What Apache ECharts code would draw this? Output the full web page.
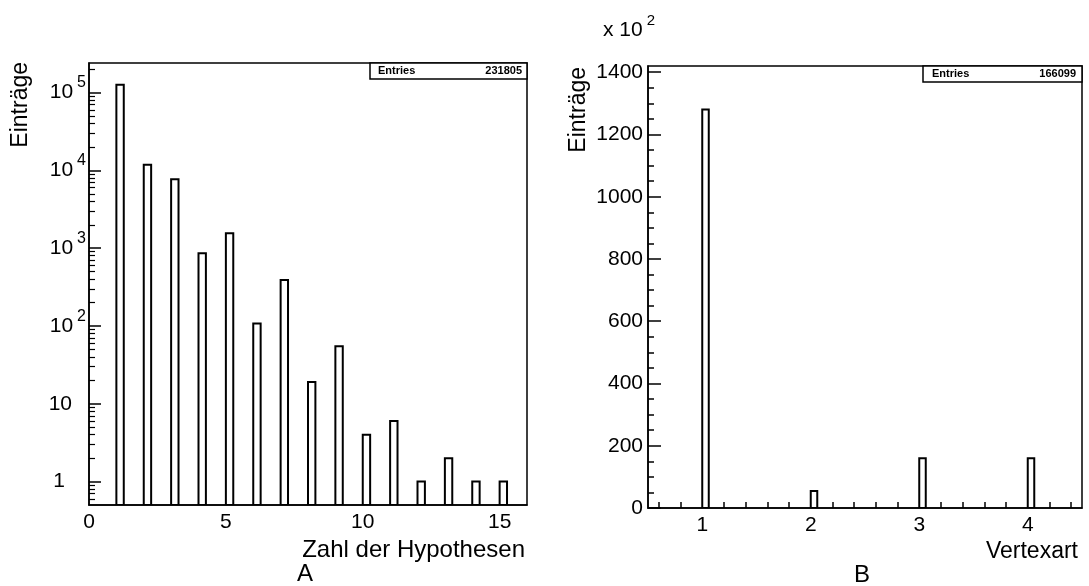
<!DOCTYPE html>
<html><head><meta charset="utf-8">
<script src="https://cdn.jsdelivr.net/npm/echarts@6/dist/echarts.min.js"></script>
<style>html,body{margin:0;padding:0;background:#fff}#c{width:1089px;height:586px}</style>
</head><body><div id="c"></div>
<script>
// ---------- Panel A: Zahl der Hypothesen (log scale) ----------
const hypBins = [1, 2, 3, 4, 5, 6, 7, 8, 9, 10, 11, 12, 13, 14, 15];
const hypCounts = [126000, 11800, 7700, 860, 1550, 108, 390, 19, 55, 4, 6, 1, 2, 1, 1];
const hypEntries = '231805';
const hypXLabels = [0, 5, 10, 15];
const hypYMajor = [1, 10, 100, 1000, 10000, 100000];
const hypYMinor = [0.6, 0.7, 0.8, 0.9, 2, 3, 4, 5, 6, 7, 8, 9,
  20, 30, 40, 50, 60, 70, 80, 90, 200, 300, 400, 500, 600, 700, 800, 900,
  2000, 3000, 4000, 5000, 6000, 7000, 8000, 9000,
  20000, 30000, 40000, 50000, 60000, 70000, 80000, 90000, 200000];

// ---------- Panel B: Vertexart (counts x 10^2) ----------
const vtxBins = [1, 2, 3, 4];
const vtxCounts = [1280, 55, 160, 160];
const vtxEntries = '166099';
const vtxXLabels = [1, 2, 3, 4];
const vtxXTicks = [0.6, 0.8, 1.0, 1.2, 1.4, 1.6, 1.8, 2.0, 2.2, 2.4, 2.6, 2.8, 3.0,
  3.2, 3.4, 3.6, 3.8, 4.0, 4.2, 4.4];
const vtxYMajor = [0, 200, 400, 600, 800, 1000, 1200, 1400];
const vtxYMinor = [50, 100, 150, 250, 300, 350, 450, 500, 550, 650, 700, 750,
  850, 900, 950, 1050, 1100, 1150, 1250, 1300, 1350];

const FONT = '"Liberation Sans", Arial, Helvetica, sans-serif';
const BLACK = '#000';

function histItem(binWidth) {
  return function (params, api) {
    const x = api.value(0), y = api.value(1);
    const top = api.coord([x, y]);
    const right = api.coord([x + binWidth, y]);
    const cs = params.coordSys;
    const base = cs.y + cs.height;
    return {
      type: 'rect',
      shape: { x: top[0], y: top[1], width: right[0] - top[0], height: base - top[1] },
      style: { fill: '#fff', stroke: BLACK, lineWidth: 2 }
    };
  };
}

const chart = echarts.init(document.getElementById('c'), null, { renderer: 'canvas' });

const logLabel = function (v) {
  const e = Math.round(Math.log10(v));
  if (e >= 2) return '{b|10}{s|' + e + '}';
  if (e === 1) return '{p10|10}';
  return '{p1|1}';
};
const plainLabel = function (v) { return String(v); };

chart.setOption({
  animation: false,
  backgroundColor: '#fff',
  textStyle: { fontFamily: FONT, color: BLACK },
  grid: [
    { left: 89, top: 63, width: 438, height: 442, show: true, borderColor: BLACK, borderWidth: 1.5, backgroundColor: 'transparent' },
    { left: 648, top: 66, width: 434, height: 442, show: true, borderColor: BLACK, borderWidth: 1.5, backgroundColor: 'transparent' }
  ],
  xAxis: [
    {
      gridIndex: 0, type: 'value', min: 0, max: 16,
      axisLine: { show: true, onZero: false, lineStyle: { color: BLACK, width: 1.5 } },
      axisTick: { show: false },
      splitLine: { show: false },
      axisLabel: { customValues: hypXLabels, formatter: plainLabel, color: BLACK, fontFamily: FONT, fontSize: 21, margin: 7 }
    },
    {
      gridIndex: 1, type: 'value', min: 0.5, max: 4.5,
      axisLine: { show: true, onZero: false, lineStyle: { color: BLACK, width: 1.5 } },
      axisTick: { show: true, inside: true, length: 6, customValues: vtxXTicks, lineStyle: { color: BLACK, width: 1.5 } },
      splitLine: { show: false },
      axisLabel: { customValues: vtxXLabels, formatter: plainLabel, color: BLACK, fontFamily: FONT, fontSize: 21, margin: 7 }
    }
  ],
  yAxis: [
    {
      gridIndex: 0, type: 'log', logBase: 10, min: 0.5, max: 240000, position: 'left',
      axisLine: { show: true, onZero: false, lineStyle: { color: BLACK, width: 1.5 } },
      axisTick: { show: true, inside: true, length: 12, customValues: hypYMajor, lineStyle: { color: BLACK, width: 1.5 } },
      splitLine: { show: false },
      axisLabel: {
        customValues: hypYMajor, formatter: logLabel, margin: 3, color: BLACK,
        rich: {
          b: { fontFamily: FONT, fontSize: 21, color: BLACK, verticalAlign: 'bottom', lineHeight: 21 },
          s: { fontFamily: FONT, fontSize: 16, color: BLACK, verticalAlign: 'bottom', lineHeight: 16, padding: [0, 0, 12, 4] },
          p10: { fontFamily: FONT, fontSize: 21, color: BLACK, padding: [0, 14, 0, 0] },
          p1: { fontFamily: FONT, fontSize: 21, color: BLACK, padding: [0, 21, 0, 0] }
        }
      }
    },
    {
      gridIndex: 0, type: 'log', logBase: 10, min: 0.5, max: 240000, position: 'left', offset: 0,
      axisLine: { show: false },
      axisTick: { show: true, inside: true, length: 6, customValues: hypYMinor, lineStyle: { color: BLACK, width: 1.2 } },
      splitLine: { show: false },
      axisLabel: { show: false }
    },
    {
      gridIndex: 1, type: 'value', min: 0, max: 1420, position: 'left',
      axisLine: { show: true, onZero: false, lineStyle: { color: BLACK, width: 1.5 } },
      axisTick: { show: true, inside: true, length: 13, customValues: vtxYMajor, lineStyle: { color: BLACK, width: 1.5 } },
      splitLine: { show: false },
      axisLabel: { customValues: vtxYMajor, formatter: plainLabel, color: BLACK, fontFamily: FONT, fontSize: 21, margin: 5 }
    },
    {
      gridIndex: 1, type: 'value', min: 0, max: 1420, position: 'left', offset: 0,
      axisLine: { show: false },
      axisTick: { show: true, inside: true, length: 6, customValues: vtxYMinor, lineStyle: { color: BLACK, width: 1.5 } },
      splitLine: { show: false },
      axisLabel: { show: false }
    }
  ],
  series: [
    {
      type: 'custom', xAxisIndex: 0, yAxisIndex: 0,
      data: hypBins.map((b, i) => [b, hypCounts[i]]),
      encode: { x: 0, y: 1 },
      renderItem: histItem(0.27), clip: true
    },
    {
      type: 'custom', xAxisIndex: 1, yAxisIndex: 2,
      data: vtxBins.map((b, i) => [b, vtxCounts[i]]),
      encode: { x: 0, y: 1 },
      renderItem: histItem(0.06), clip: true
    }
  ],
  graphic: [
    // Stat boxes
    { type: 'rect', shape: { x: 370, y: 63, width: 157, height: 16 }, style: { fill: '#fff', stroke: BLACK, lineWidth: 1.5 } },
    { type: 'text', x: 378, y: 71, style: { text: 'Entries', font: 'bold 11px ' + FONT, fill: BLACK, verticalAlign: 'middle', align: 'left' } },
    { type: 'text', x: 522, y: 71, style: { text: hypEntries, font: 'bold 11px ' + FONT, fill: BLACK, verticalAlign: 'middle', align: 'right' } },
    { type: 'rect', shape: { x: 923, y: 66, width: 159, height: 16 }, style: { fill: '#fff', stroke: BLACK, lineWidth: 1.5 } },
    { type: 'text', x: 932, y: 74, style: { text: 'Entries', font: 'bold 11px ' + FONT, fill: BLACK, verticalAlign: 'middle', align: 'left' } },
    { type: 'text', x: 1076, y: 74, style: { text: vtxEntries, font: 'bold 11px ' + FONT, fill: BLACK, verticalAlign: 'middle', align: 'right' } },
    // Y titles
    { type: 'text', x: 21, y: 62, rotation: Math.PI / 2, style: { text: 'Einträge', font: '23px ' + FONT, fill: BLACK, align: 'right', verticalAlign: 'middle' } },
    { type: 'text', x: 579, y: 67, rotation: Math.PI / 2, style: { text: 'Einträge', font: '23px ' + FONT, fill: BLACK, align: 'right', verticalAlign: 'middle' } },
    // X titles
    { type: 'text', x: 525, y: 550, style: { text: 'Zahl der Hypothesen', font: '24px ' + FONT, fill: BLACK, align: 'right', verticalAlign: 'middle' } },
    { type: 'text', x: 297, y: 574, style: { text: 'A', font: '24px ' + FONT, fill: BLACK, align: 'left', verticalAlign: 'middle' } },
    { type: 'text', x: 1078, y: 552, style: { text: 'Vertexart', font: '23px ' + FONT, fill: BLACK, align: 'right', verticalAlign: 'middle' } },
    { type: 'text', x: 854, y: 575, style: { text: 'B', font: '24px ' + FONT, fill: BLACK, align: 'left', verticalAlign: 'middle' } },
    // Scale factor
    { type: 'text', x: 603, y: 30, style: {
        text: '{b|x 10}{s|2}', align: 'left', verticalAlign: 'middle',
        rich: {
          b: { fontFamily: FONT, fontSize: 21, fill: BLACK, verticalAlign: 'bottom', lineHeight: 21 },
          s: { fontFamily: FONT, fontSize: 15, fill: BLACK, verticalAlign: 'bottom', lineHeight: 15, padding: [0, 0, 12, 4] }
        } } }
  ]
});
</script>
</body></html>
